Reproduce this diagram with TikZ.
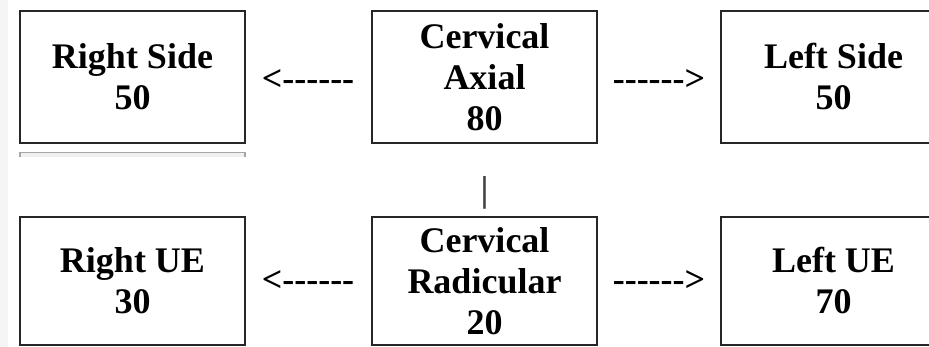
\documentclass[tikz,border=0pt]{standalone}
\usepackage{fontspec}
\setmainfont{Liberation Serif}[Ligatures=TeXOff]
\begin{document}
\begin{tikzpicture}[x=1pt,y=-1pt,
  box/.style={draw=black!85, line width=2pt, fill=white, align=center,
    font=\fontsize{36}{41}\selectfont\bfseries, inner sep=0pt},
  topbox/.style={box, minimum width=225pt, minimum height=132pt},
  botbox/.style={box, minimum width=225pt, minimum height=128pt},
  arrowtext/.style={font=\fontsize{36}{41}\selectfont\bfseries, inner sep=0pt, anchor=base}
]
\useasboundingbox (0,0) rectangle (929,347);
\fill[black!4] (0,0) rectangle (8,347);
% faint line below the first box
\fill[black!6] (20,152.5) rectangle (245,157);
\draw[black!35, line width=1.5pt] (20,157) -- (20,152.5) -- (245,152.5) -- (245,157);
% top row
\node[topbox] (rs) at (132.5,77) {Right Side\\50};
\node[topbox] (ca) at (484.5,77) {Cervical\\Axial\\80};
\node[topbox] (ls) at (833.5,77) {Left Side\\50};
% bottom row
\node[botbox] (rue) at (132.5,281) {Right UE\\30};
\node[botbox] (cr) at (484.5,281) {Cervical\\Radicular\\20};
\node[botbox] (lue) at (833.5,281) {Left UE\\70};
% text arrows
\node[arrowtext] (a1) at (308,91) {<------};
\node[arrowtext] (a2) at (659,91) {------>};
\node[arrowtext] (a3) at (308,292) {<------};
\node[arrowtext] (a4) at (659,292) {------>};
\node[arrowtext, text=black!75] (bar) at (484.5,202) {|};
\end{tikzpicture}
\end{document}
